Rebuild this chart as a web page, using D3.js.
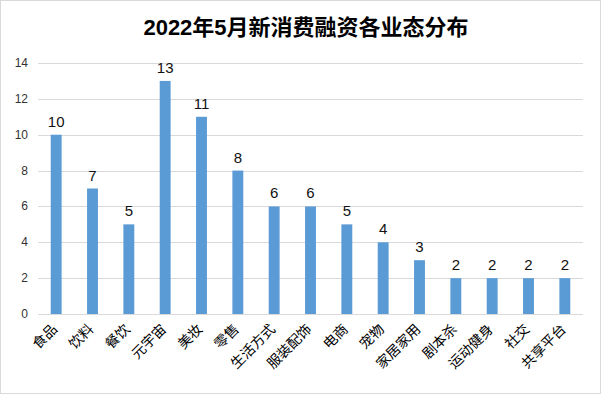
<!doctype html>
<html>
<head>
<meta charset="utf-8">
<style>
  body { margin: 0; background: #fff; }
  text { font-family: "Liberation Sans", "Noto Sans CJK SC", sans-serif; }
</style>
<script src="https://cdn.jsdelivr.net/npm/d3@7/dist/d3.min.js"></script>
</head>
<body>
<svg width="601" height="394"></svg>
<script>
var categories = ["食品", "饮料", "餐饮", "元宇宙", "美妆", "零售", "生活方式", "服装配饰", "电商", "宠物", "家居家用", "剧本杀", "运动健身", "社交", "共享平台"];
var counts = [10, 7, 5, 13, 11, 8, 6, 6, 5, 4, 3, 2, 2, 2, 2];
var yTicks = [0, 2, 4, 6, 8, 10, 12, 14];

var data = categories.map(function(c, i) { return {name: c, value: counts[i]}; });

var svg = d3.select("svg");
var plotLeft = 38, plotRight = 583, plotTop = 63, plotBottom = 314;

svg.append("rect")
   .attr("x", 0.5).attr("y", 0.5)
   .attr("width", 600).attr("height", 393)
   .attr("fill", "#fff").attr("stroke", "#d9d9d9");

svg.append("text")
   .attr("x", 306).attr("y", 35)
   .attr("text-anchor", "middle")
   .attr("font-family", "Noto Sans CJK SC")
   .attr("font-weight", "bold")
   .attr("font-size", "22px")
   .text("2022年5月新消费融资各业态分布");

var x = d3.scaleBand().domain(categories).range([plotLeft, plotRight]).paddingInner(0.7).paddingOuter(0.35);
var y = d3.scaleLinear().domain([0, 14]).range([plotBottom, plotTop]);

// gridlines
svg.append("g").selectAll("line")
   .data(yTicks)
   .enter().append("line")
   .attr("x1", plotLeft).attr("x2", plotRight)
   .attr("y1", function(d) { return Math.round(y(d)) + 0.5; })
   .attr("y2", function(d) { return Math.round(y(d)) + 0.5; })
   .attr("stroke", "#d9d9d9");

// y axis labels
svg.append("g").selectAll("text")
   .data(yTicks)
   .enter().append("text")
   .attr("x", 28)
   .attr("y", function(d) { return y(d) + 4; })
   .attr("text-anchor", "end")
   .attr("font-size", "12px")
   .attr("fill", "#333")
   .text(function(d) { return d; });

// bars
svg.append("g").selectAll("rect")
   .data(data)
   .enter().append("rect")
   .attr("x", function(d) { return x(d.name); })
   .attr("y", function(d) { return y(d.value); })
   .attr("width", x.bandwidth())
   .attr("height", function(d) { return y(0) - y(d.value); })
   .attr("fill", "#5b9bd5");

// value labels
svg.append("g").selectAll("text")
   .data(data)
   .enter().append("text")
   .attr("x", function(d) { return x(d.name) + x.bandwidth() / 2; })
   .attr("y", function(d) { return y(d.value) - 8; })
   .attr("text-anchor", "middle")
   .attr("font-size", "15px")
   .attr("fill", "#111")
   .text(function(d) { return d.value; });

// category labels
svg.append("g").selectAll("text")
   .data(categories)
   .enter().append("text")
   .attr("transform", function(d) {
       return "translate(" + (x(d) + x.bandwidth() / 2 + 2) + "," + (plotBottom + 16) + ") rotate(-45)";
   })
   .attr("text-anchor", "end")
   .attr("font-family", "Noto Sans CJK SC")
   .attr("font-size", "14px")
   .attr("fill", "#000")
   .text(function(d) { return d; });
</script>
</body>
</html>
